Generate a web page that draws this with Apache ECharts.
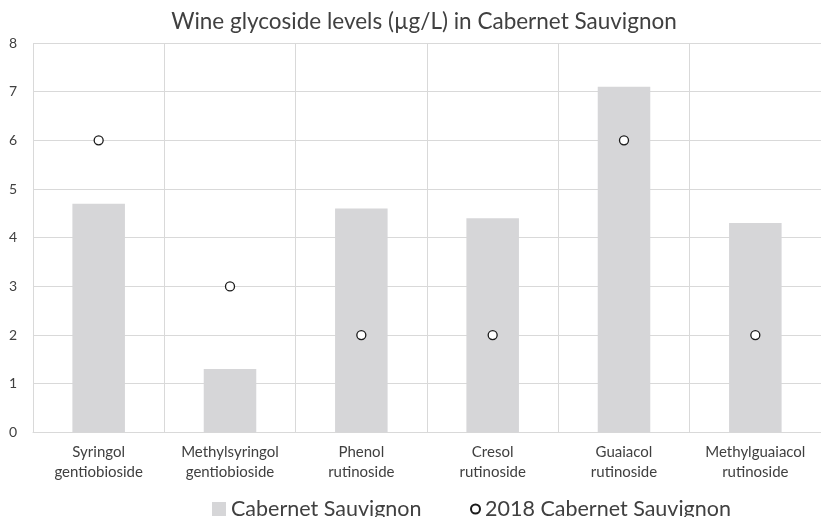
<!DOCTYPE html>
<html>
<head>
<meta charset="utf-8">
<script src="https://cdn.jsdelivr.net/npm/echarts@6/dist/echarts.min.js"></script>
<style>
html,body{margin:0;padding:0;background:#fff;}
#chart{width:821px;height:517px;}
</style>
</head>
<body>
<div id="chart"></div>
<script>
var categories = [
  "Syringol\ngentiobioside",
  "Methylsyringol\ngentiobioside",
  "Phenol\nrutinoside",
  "Cresol\nrutinoside",
  "Guaiacol\nrutinoside",
  "Methylguaiacol\nrutinoside"
];
var cabernetValues = [4.7, 1.3, 4.6, 4.4, 7.1, 4.3];
var cab2018Values = [6, 3, 2, 2, 6, 2];
var yTicks = [0, 1, 2, 3, 4, 5, 6, 7, 8];
var titleText = "Wine glycoside levels (\u00b5g/L) in Cabernet Sauvignon";
var seriesNames = ["Cabernet Sauvignon", "2018 Cabernet Sauvignon"];

var FONT = "Lato";
var chart = echarts.init(document.getElementById('chart'), null, {renderer: 'canvas'});
chart.setOption({
  animation: false,
  backgroundColor: '#ffffff',
  title: {
    text: titleText,
    left: 419,
    textAlign: 'center',
    top: 5,
    textStyle: {fontFamily: FONT, fontSize: 22.5, fontWeight: 'normal', color: '#404040'}
  },
  legend: [{
    data: [seriesNames[0]],
    left: 207,
    top: 493,
    itemWidth: 14,
    itemHeight: 14,
    icon: 'rect',
    textStyle: {fontFamily: FONT, fontSize: 21.5, color: '#404040'}
  }, {
    data: [seriesNames[1]],
    left: 465,
    top: 493,
    itemWidth: 9,
    itemHeight: 9,
    icon: 'circle',
    textStyle: {fontFamily: FONT, fontSize: 21.5, color: '#404040'}
  }],
  grid: {left: 33, width: 793, top: 43, bottom: 84.6, containLabel: false},
  xAxis: {
    type: 'category',
    data: categories,
    boundaryGap: true,
    axisLine: {show: true, lineStyle: {color: '#d9d9d9', width: 1}},
    axisTick: {show: false},
    splitLine: {show: true, lineStyle: {color: '#d9d9d9', width: 1}},
    axisLabel: {fontFamily: FONT, fontSize: 15, color: '#404040', lineHeight: 20, margin: 10, interval: 0}
  },
  yAxis: {
    type: 'value',
    min: yTicks[0],
    max: yTicks[yTicks.length - 1],
    interval: 1,
    axisLine: {show: false},
    axisTick: {show: false},
    splitLine: {show: true, lineStyle: {color: '#d9d9d9', width: 1}},
    axisLabel: {fontFamily: FONT, fontSize: 14, color: '#404040', margin: 16}
  },
  series: [{
    name: seriesNames[0],
    type: 'bar',
    data: cabernetValues,
    barWidth: '40%',
    itemStyle: {color: '#d6d6d8'},
    z: 2
  }, {
    name: seriesNames[1],
    type: 'scatter',
    data: cab2018Values,
    symbol: 'circle',
    symbolSize: 9,
    itemStyle: {color: '#ffffff', borderColor: '#1a1a1a', borderWidth: 1.3, opacity: 1},
    z: 3
  }]
});
</script>
</body>
</html>
